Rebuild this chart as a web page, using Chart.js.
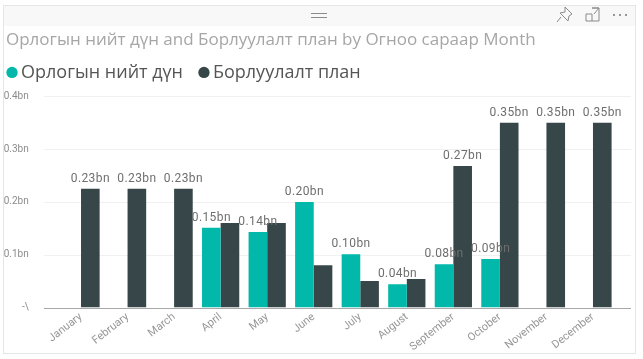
<!DOCTYPE html>
<html>
<head>
<meta charset="utf-8">
<script src="https://cdn.jsdelivr.net/npm/chart.js@4"></script>
<style>
  html, body { margin: 0; padding: 0; background: #fff; }
  #frame { position: absolute; left: 3px; top: 5px; width: 633px; height: 349px; border: 1px solid #e6e6e6; box-sizing: border-box; }
  #head { position: absolute; left: 4px; top: 6px; width: 631px; height: 20px; background: #f8f8f8; }
  #icons { position: absolute; left: 0; top: 0; }
  canvas { position: absolute; left: 0; top: 0; }
</style>
</head>
<body>
<div id="frame"></div>
<div id="head"></div>
<svg id="icons" width="643" height="30" fill="none" stroke="#8a8a8a" stroke-width="1">
  <path d="M311 13.5h16M311 17.5h16"/>
  <path d="M565 7l7 7-3 2-1 5-8-8 5-1zM561 17l-4 5"/>
  <path d="M586 14v7h13V8h-7M586 14h6v7M592 8h7M594 14l5-6"/>
  <g fill="#777" stroke="none"><circle cx="614" cy="15" r="1"/><circle cx="620" cy="15" r="1"/><circle cx="626" cy="15" r="1"/></g>
</svg>
<canvas id="grafico" width="643" height="359"></canvas>
<script>
const meses = ['January', 'February', 'March', 'April', 'May', 'June', 'July', 'August', 'September', 'October', 'November', 'December'];
const orlogo = [null, null, null, 0.151, 0.143, 0.2, 0.101, 0.044, 0.082, 0.092, null, null];
const plan = [0.225, 0.225, 0.225, 0.16, 0.16, 0.08, 0.05, 0.054, 0.268, 0.35, 0.35, 0.35];
const orlogoEtiquetas = [null, null, null, '0.15bn', '0.14bn', '0.20bn', '0.10bn', '0.04bn', '0.08bn', '0.09bn', null, null];
const planEtiquetas = ['0.23bn', '0.23bn', '0.23bn', null, null, null, null, null, '0.27bn', '0.35bn', '0.35bn', '0.35bn'];
const yEtiquetas = ['-\\', '0.1bn', '0.2bn', '0.3bn', '0.4bn'];

const fuente = 'Roboto, sans-serif';

// lineas de fondo: en el original pasan mas alla del area de las barras
const lineas = {
  id: 'lineas',
  afterLayout(chart) {
    // titulo y leyenda no van pegados al borde izquierdo
    chart.titleBlock.left += 6;
    chart.titleBlock.top += 4;
    chart.legend.left -= 9;
    chart.legend.top -= 5;
  },
  beforeDatasetsDraw(chart) {
    const { ctx } = chart;
    const y = chart.scales.y;
    ctx.save();
    yEtiquetas.forEach((_, i) => {
      const py = Math.round(y.getPixelForValue(i / 10)) + 0.5;
      ctx.strokeStyle = i === 0 ? '#a8a8a8' : '#f0f0f0';
      ctx.beginPath();
      ctx.moveTo(44, py);
      ctx.lineTo(631, py);
      ctx.stroke();
    });
    ctx.restore();
  }
};

// etiquetas encima de las barras
const etiquetas = {
  id: 'etiquetas',
  afterDatasetsDraw(chart) {
    const { ctx } = chart;
    ctx.save();
    ctx.font = '12px ' + fuente;
    ctx.letterSpacing = '0.4px';
    ctx.fillStyle = '#6e6e6e';
    ctx.textAlign = 'center';
    ctx.textBaseline = 'alphabetic';
    [orlogoEtiquetas, planEtiquetas].forEach((textos, d) => {
      chart.getDatasetMeta(d).data.forEach((barra, i) => {
        if (textos[i]) ctx.fillText(textos[i], barra.x, barra.y - 7);
      });
    });
    ctx.restore();
  }
};

new Chart(document.getElementById('grafico'), {
  type: 'bar',
  data: {
    labels: meses,
    datasets: [
      { label: 'Орлогын нийт дүн', data: orlogo, backgroundColor: '#01b8aa', borderWidth: 0 },
      { label: 'Борлуулалт план', data: plan, backgroundColor: '#374649', borderWidth: 0 }
    ]
  },
  options: {
    responsive: false,
    animation: false,
    datasets: { bar: { categoryPercentage: 0.8, barPercentage: 1 } },
    layout: { padding: { left: 0, right: 26.75, top: 26, bottom: 0 } },
    scales: {
      x: {
        afterFit: s => { s.height = 51.5; },
        grid: { display: false, drawTicks: false },
        border: { display: false },
        ticks: { color: '#969696', font: { family: fuente, size: 11 }, minRotation: 38, maxRotation: 38, autoSkip: false, padding: 3 }
      },
      y: {
        min: 0,
        max: 0.4,
        afterFit: s => { s.width = 57.75; },
        grid: { display: false, drawTicks: false },
        border: { display: false },
        ticks: {
          stepSize: 0.1,
          color: '#8c8c8c',
          font: { family: fuente, size: 10 },
          padding: 29,
          callback: (v, i) => yEtiquetas[i]
        }
      }
    },
    plugins: {
      tooltip: { enabled: false },
      title: {
        display: true,
        align: 'start',
        text: 'Орлогын нийт дүн and Борлуулалт план by Огноо сараар Month',
        color: '#a6a6a6',
        font: { family: '"Open Sans", sans-serif', size: 17, weight: 'normal' },
        padding: { top: 0, bottom: 1 }
      },
      legend: {
        display: true,
        align: 'start',
        labels: {
          usePointStyle: true,
          pointStyle: 'circle',
          boxWidth: 0.01,
          boxHeight: 8,
          padding: 21,
          color: '#555',
          font: { family: '"Open Sans", sans-serif', size: 18 }
        }
      }
    }
  },
  plugins: [lineas, etiquetas]
});
</script>
</body>
</html>
